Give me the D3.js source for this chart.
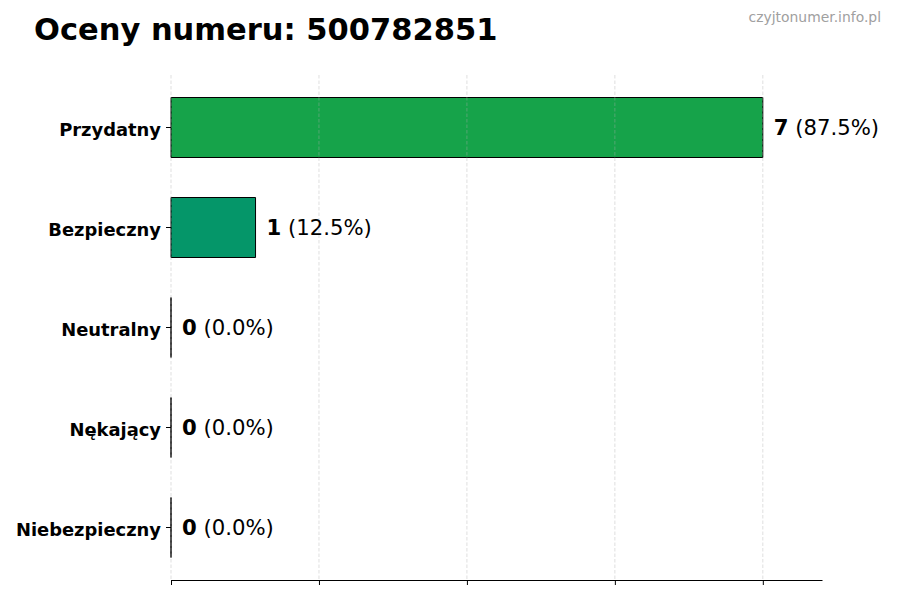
<!DOCTYPE html>
<html>
<head>
<meta charset="utf-8">
<script src="https://cdn.jsdelivr.net/npm/d3@7"></script>
<style>
  html, body { margin: 0; padding: 0; background: #fff; }
  svg { display: block; font-family: "DejaVu Sans", sans-serif; }
</style>
</head>
<body>
<svg id="chart" width="900" height="600"></svg>
<script>
const categories = ["Przydatny", "Bezpieczny", "Neutralny", "Nękający", "Niebezpieczny"];
const counts = [7, 1, 0, 0, 0];
const barColors = ["#16a34a", "#059669", "#6b7280", "#f59e0b", "#dc2626"];
const xTicks = [0, 1.75, 3.5, 5.25, 7];
const titleText = "Oceny numeru: 500782851";
const watermark = "czyjtonumer.info.pl";

const total = d3.sum(counts);
const svg = d3.select("#chart");

const x = d3.scaleLinear().domain([0, 7.7]).range([171, 822]);
const y = d3.scaleBand().domain(categories).range([75, 580]).paddingInner(0.4).paddingOuter(0.225);

// bars
const g = svg.append("g");
g.selectAll("path.bar")
  .data(categories)
  .join("path")
  .attr("class", "bar")
  .attr("d", (c, i) => {
    const p = d3.path();
    const x0 = x(0), x1 = x(counts[i]);
    const y0 = y(c), y1 = y(c) + y.bandwidth();
    p.moveTo(x0, y0); p.lineTo(x1, y0); p.lineTo(x1, y1); p.lineTo(x0, y1); p.closePath();
    return p.toString();
  })
  .attr("fill", (c, i) => barColors[i])
  .attr("stroke", "#000")
  .attr("stroke-width", 1);

// grid (above bars)
svg.append("g")
  .selectAll("line")
  .data(xTicks)
  .join("line")
  .attr("x1", d => x(d)).attr("x2", d => x(d))
  .attr("y1", 75).attr("y2", 580)
  .attr("stroke", "#b0b0b0")
  .attr("stroke-opacity", 0.5)
  .attr("stroke-width", 0.8)
  .attr("stroke-dasharray", "3.5,2");

// bottom axis
const xAxis = d3.axisBottom(x).tickValues(xTicks).tickFormat("").tickSize(5).tickSizeOuter(0);
const xg = svg.append("g").attr("transform", "translate(0,580)").call(xAxis);
xg.select(".domain").attr("stroke", "#000").attr("stroke-width", 1.2);
xg.selectAll(".tick line").attr("stroke", "#000").attr("stroke-width", 1);

// left axis (ticks + labels, no spine)
const yAxis = d3.axisLeft(y).tickSize(5).tickPadding(5).tickSizeOuter(0);
const yg = svg.append("g").attr("transform", "translate(171,0)").call(yAxis);
yg.select(".domain").remove();
yg.selectAll(".tick line").attr("stroke", "#000").attr("stroke-width", 1);
yg.selectAll(".tick text")
  .attr("font-family", "DejaVu Sans")
  .attr("font-weight", "bold")
  .attr("font-size", 17.9)
  .attr("dy", "0.45em")
  .attr("fill", "#000");

// value labels
const lbl = svg.append("g").selectAll("text")
  .data(categories)
  .join("text")
  .attr("x", (c, i) => x(counts[i]) + 11)
  .attr("y", c => y(c) + y.bandwidth() / 2)
  .attr("dy", "0.36em")
  .attr("font-size", 21.2)
  .attr("fill", "#000");
lbl.append("tspan").attr("font-weight", "bold").text((c, i) => counts[i]);
lbl.append("tspan").text((c, i) => " (" + (counts[i] / total * 100).toFixed(1) + "%)");

// title
svg.append("text")
  .attr("x", 34).attr("y", 40)
  .attr("font-size", 30.5).attr("font-weight", "bold").attr("fill", "#000")
  .text(titleText);

svg.append("text")
  .attr("x", 881).attr("y", 22)
  .attr("text-anchor", "end")
  .attr("font-size", 13.9).attr("fill", "#a0a0a0")
  .text(watermark);
</script>
</body>
</html>
